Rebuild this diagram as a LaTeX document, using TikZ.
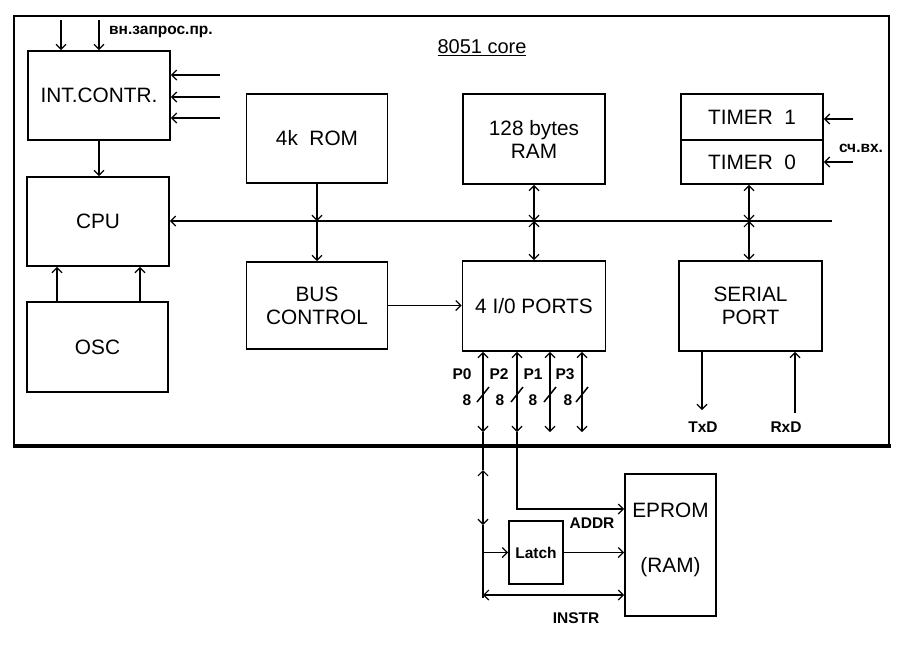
\documentclass[tikz,border=0pt]{standalone}
\usepackage{fontspec}
\setmainfont{Liberation Sans}
\usetikzlibrary{arrows.meta,calc}
\begin{document}
\begin{tikzpicture}[x=1pt,y=-1pt,
 box/.style={draw,line width=1.8pt,inner sep=0pt,font=\fontsize{20.8}{23}\selectfont,align=center},
 lbl/.style={font=\bfseries\fontsize{15.5}{17}\selectfont,inner sep=0pt},
 conn/.style={line width=1.5pt},
 >={Straight Barb[length=5pt,width=10pt,line width=1.2pt]}
]
\useasboundingbox (0,0) rectangle (900,646);
% frame
\draw[line width=1.8pt] (14,446) -- (14,16) -- (889,16) -- (889,446);
\draw[line width=3.2pt] (12.5,446) -- (890.5,446);
\node[font=\fontsize{20}{22}\selectfont,inner sep=0pt] (core) at (482,48) {\underline{8051 core}};

% blocks
\node[box,minimum width=142pt,minimum height=89pt] (intc) at (99,95.5) {INT.CONTR.};
\node[box,minimum width=142pt,minimum height=89pt] (cpu) at (98,221.5) {CPU};
\node[box,minimum width=141pt,minimum height=90pt] (osc) at (97.5,347) {OSC};
\node[box,minimum width=141pt,minimum height=89pt] (rom) at (317,138.5) {4k~~ROM};
\node[box,minimum width=141pt,minimum height=87pt] (busc) at (317,305.5) {BUS\\CONTROL};
\node[box,minimum width=142pt,minimum height=90pt] (ram) at (534,139) {128 bytes\\RAM};
\node[box,minimum width=143pt,minimum height=90pt] (io) at (534,306) {4 I/0 PORTS};
\node[box,minimum width=142pt,minimum height=46pt] (t1) at (752,117) {TIMER~~1};
\node[box,minimum width=142pt,minimum height=44pt] (t0) at (752,162) {TIMER~~0};
\node[box,minimum width=143pt,minimum height=90pt] (ser) at (750.5,306) {SERIAL\\PORT};
\node[box,minimum width=91pt,minimum height=142pt] (eprom) at (670.5,545) {};
\node[inner sep=0pt,font=\fontsize{20.8}{23}\selectfont] (epromA) at (670.5,510) {EPROM};
\node[inner sep=0pt,font=\fontsize{20.8}{23}\selectfont] (epromB) at (670.5,567) {(RAM)};
\node[box,minimum width=54pt,minimum height=63pt,font=\bfseries\fontsize{15.5}{17}\selectfont] (latch) at (536,552.5) {Latch};

% interrupt inputs
\coordinate (it1) at (61,20);
\coordinate (it2) at (99,20);
\draw[conn,->] (it1) -- (it1 |- intc.north);
\draw[conn,->] (it2) -- (it2 |- intc.north);
\node[lbl,anchor=west] (vnz) at (109,32) {вн.запрос.пр.};
\coordinate (ir1) at (220,75);
\coordinate (ir2) at (220,97);
\coordinate (ir3) at (220,118);
\draw[conn,->] (ir1) -- (ir1 -| intc.east);
\draw[conn,->] (ir2) -- (ir2 -| intc.east);
\draw[conn,->] (ir3) -- (ir3 -| intc.east);
\draw[conn,->] (intc.south) -- (intc.south |- cpu.north);

% osc -> cpu
\coordinate (o1) at (57,302);
\coordinate (o2) at (140,302);
\draw[conn,->] (o1 |- osc.north) -- (o1 |- cpu.south);
\draw[conn,->] (o2 |- osc.north) -- (o2 |- cpu.south);

% internal bus
\coordinate (busR) at (832,221);
\draw[conn,->] (busR) -- (busR -| cpu.east);
\draw[conn,->] (rom.south) -- (rom.south |- busR);
\draw[conn,->] (rom.south |- busR) -- (busc.north);
\draw[conn,<->] (ram.south) -- (ram.south |- busR);
\draw[conn,<->] (ram.south |- busR) -- (io.north);
\coordinate (tx) at (749,221);
\draw[conn,<->] (tx |- t0.south) -- (tx);
\draw[conn,<->] (tx) -- (tx |- ser.north);
\draw[conn,->] (busc.east) -- (busc.east -| io.west);

% timer inputs
\coordinate (ti1) at (853,119);
\coordinate (ti0) at (853,162);
\draw[conn,->] (ti1) -- (ti1 -| t1.east);
\draw[conn,->] (ti0) -- (ti0 -| t0.east);
\node[lbl] (cv) at (861,148) {сч.вх.};

% serial lines
\coordinate (txd) at (702,410);
\coordinate (rxd) at (795,413);
\draw[conn,->] (txd |- ser.south) -- (txd);
\draw[conn,->] (rxd) -- (rxd |- ser.south);
\node[lbl] (txdl) at (703,427) {TxD};
\node[lbl] (rxdl) at (786,427) {RxD};

% ports
\coordinate (p0b) at (483,432);
\coordinate (p2b) at (517,432);
\coordinate (p1b) at (550,432);
\coordinate (p3b) at (582,432);
\foreach \p in {p0b,p2b,p1b,p3b}{
  \draw[conn,<->] (\p |- io.south) -- (\p);
  \draw[conn] ($(\p)+(-6,-30)$) -- ($(\p)+(6,-45)$);
}
\node[lbl] (lp0) at (462,374) {P0};
\node[lbl] (lp2) at (499,374) {P2};
\node[lbl] (lp1) at (533,374) {P1};
\node[lbl] (lp3) at (565,374) {P3};
\node[lbl] (n0) at (467,400) {8};
\node[lbl] (n2) at (500,400) {8};
\node[lbl] (n1) at (533,400) {8};
\node[lbl] (n3) at (568,400) {8};

% external memory
\coordinate (p0u) at (483,470);
\coordinate (p0d) at (483,525);
\coordinate (p0l) at (483,552.5);
\coordinate (p0i) at (483,595);
\coordinate (p0e) at (483,598);
\draw[conn] (p0b) -- (p0u);
\draw[conn,<->] (p0u) -- (p0d);
\draw[conn] (p0d) -- (p0e);
\draw[conn,->] (p0l) -- (latch.west);
\draw[conn,->] (latch.east) -- (latch.east -| eprom.west);
\draw[conn,<->] (p0i) -- (p0i -| eprom.west);
\coordinate (p2c) at (517,509);
\draw[conn,->] (p2b) -- (p2c) -- (p2c -| eprom.west);
\node[lbl] (addr) at (592,523) {ADDR};
\node[lbl] (instr) at (576,618) {INSTR};
\end{tikzpicture}
\end{document}
